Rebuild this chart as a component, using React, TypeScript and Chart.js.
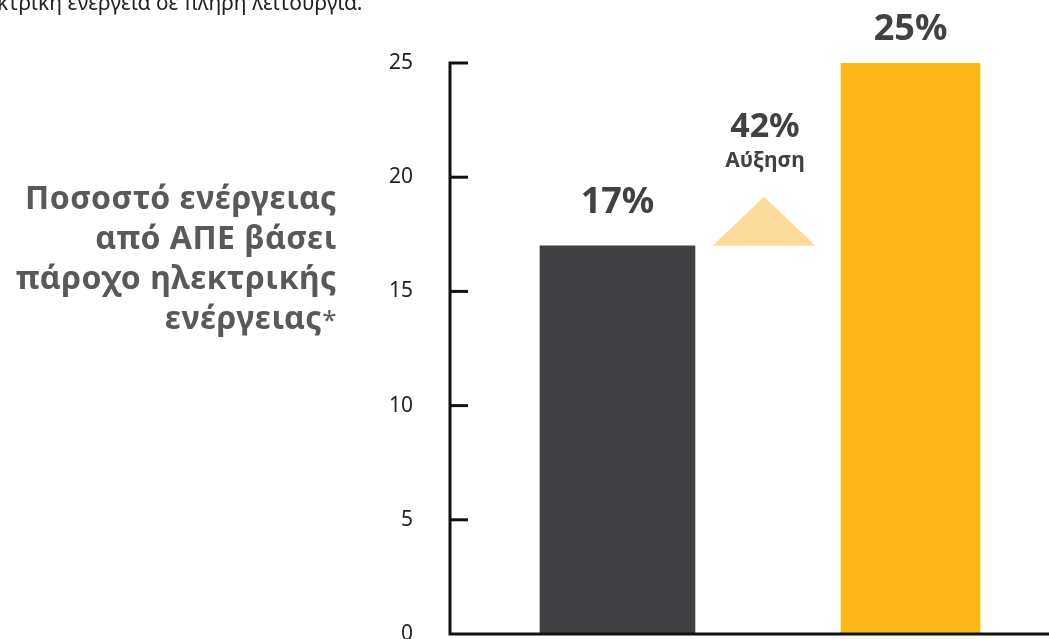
import React, { useEffect, useRef } from 'react';
import { Chart, registerables } from 'chart.js';

Chart.register(...registerables);

// ---- data ----
const categories = ['Σήμερα', 'Σε πλήρη λειτουργία'];
const shareValues = [17, 25];
const yTickValues = [0, 5, 10, 15, 20, 25];
const growthLabel = '42%';
const growthText = 'Αύξηση';
const titleLines = ['Ποσοστό ενέργειας', 'από ΑΠΕ βάσει', 'πάροχο ηλεκτρικής', 'ενέργειας'];
const topNote = 'κτρική ενέργεια σε πλήρη λειτουργία.';

// ---- styles ----
const FONT = '"Noto Sans", Roboto, sans-serif';
const barColors = ['#414042', '#FBB817'];
const barWidths = [155, 139];
const labelGaps = [33, 23];
const triangleColor = '#FDDB9C';
const labelColor = '#414042';
const axisColor = '#111111';

const overlayPlugin = {
  id: 'overlay',
  afterDatasetsDraw(chart: any) {
    const { ctx, chartArea, scales } = chart;
    const x = scales.x;
    const y = scales.y;
    ctx.save();
    // axes with inner ticks
    ctx.strokeStyle = axisColor;
    ctx.lineWidth = 3;
    ctx.lineJoin = 'miter';
    ctx.lineCap = 'butt';
    ctx.beginPath();
    ctx.moveTo(chartArea.left + 18, chartArea.top);
    ctx.lineTo(chartArea.left, chartArea.top);
    ctx.lineTo(chartArea.left, chartArea.bottom);
    ctx.lineTo(chartArea.right, chartArea.bottom);
    ctx.stroke();
    y.ticks.forEach((t: any) => {
      const py = y.getPixelForValue(t.value);
      if (Math.abs(py - chartArea.top) < 1 || Math.abs(py - chartArea.bottom) < 1) return;
      ctx.beginPath();
      ctx.moveTo(chartArea.left, py);
      ctx.lineTo(chartArea.left + 18, py);
      ctx.stroke();
    });

    // bar value labels
    ctx.fillStyle = labelColor;
    ctx.textAlign = 'center';
    ctx.textBaseline = 'alphabetic';
    ctx.font = `bold 36px ${FONT}`;
    shareValues.forEach((v, i) => {
      const el = chart.getDatasetMeta(i).data[0];
      ctx.fillText(`${v}%`, el.x, el.y - labelGaps[i]);
    });

    // growth triangle between the bars
    const cx = x.getPixelForValue(1);
    const baseY = y.getPixelForValue(shareValues[0]);
    ctx.fillStyle = triangleColor;
    ctx.beginPath();
    ctx.moveTo(cx - 51.5, baseY);
    ctx.lineTo(cx + 51.5, baseY);
    ctx.lineTo(cx, baseY - 49);
    ctx.closePath();
    ctx.fill();

    ctx.fillStyle = labelColor;
    ctx.font = `bold 34px ${FONT}`;
    ctx.fillText(growthLabel, cx + 1, baseY - 109);
    ctx.font = `bold 21px ${FONT}`;
    ctx.fillText(growthText, cx + 1, baseY - 79);
    ctx.restore();
  },
};

export default function App() {
  const canvasRef = useRef<HTMLCanvasElement | null>(null);

  useEffect(() => {
    if (!canvasRef.current) return;
    const chart = new Chart(canvasRef.current, {
      type: 'bar',
      data: {
        datasets: shareValues.map((v, i) => ({
          label: categories[i],
          data: [{ x: i * 2, y: v }],
          backgroundColor: barColors[i],
          borderWidth: 0,
          barThickness: barWidths[i],
          grouped: false,
        })),
      },
      options: {
        animation: false,
        responsive: false,
        devicePixelRatio: 1,
        layout: { padding: { top: 63, bottom: 26, left: 0, right: 0 } },
        plugins: { legend: { display: false }, tooltip: { enabled: false } },
        scales: {
          x: { type: 'linear', display: false, offset: false, min: -1.143, max: 2.945 },
          y: {
            min: 0,
            max: 25,
            afterBuildTicks: (scale: any) => {
              scale.ticks = yTickValues.map((v) => ({ value: v }));
            },
            afterFit: (scale: any) => {
              scale.width = 450;
            },
            grid: {
              display: true,
              drawOnChartArea: false,
              drawTicks: true,
              tickLength: 37,
              color: 'rgba(0,0,0,0)',
            },
            border: { display: false },
            ticks: {
              padding: 0,
              color: '#231F20',
              font: { family: FONT, size: 21 },
            },
          },
        },
      },
      plugins: [overlayPlugin],
    } as any);
    return () => chart.destroy();
  }, []);

  return (
    <div
      style={{
        position: 'fixed',
        left: 0,
        top: 0,
        width: 1049,
        height: 639,
        overflow: 'hidden',
        background: '#ffffff',
      }}
    >
      <canvas
        ref={canvasRef}
        width={1049}
        height={660}
        style={{ position: 'absolute', left: 0, top: 0, display: 'block' }}
      />
      <div
        style={{
          position: 'absolute',
          left: -3,
          top: -8,
          whiteSpace: 'nowrap',
          fontFamily: FONT,
          fontSize: 21,
          lineHeight: '21px',
          color: '#222222',
        }}
      >
        {topNote}
      </div>
      <div
        style={{
          position: 'absolute',
          left: 0,
          top: 177,
          width: 337,
          textAlign: 'right',
          fontFamily: FONT,
          fontWeight: 700,
          fontSize: 32,
          letterSpacing: '0.5px',
          lineHeight: '40px',
          color: '#58595B',
          whiteSpace: 'nowrap',
        }}
      >
        {titleLines.map((line, i) => (
          <div key={i}>
            {line}
            {i === titleLines.length - 1 ? (
              <span style={{ fontWeight: 400, fontSize: 26 }}>*</span>
            ) : null}
          </div>
        ))}
      </div>
    </div>
  );
}
